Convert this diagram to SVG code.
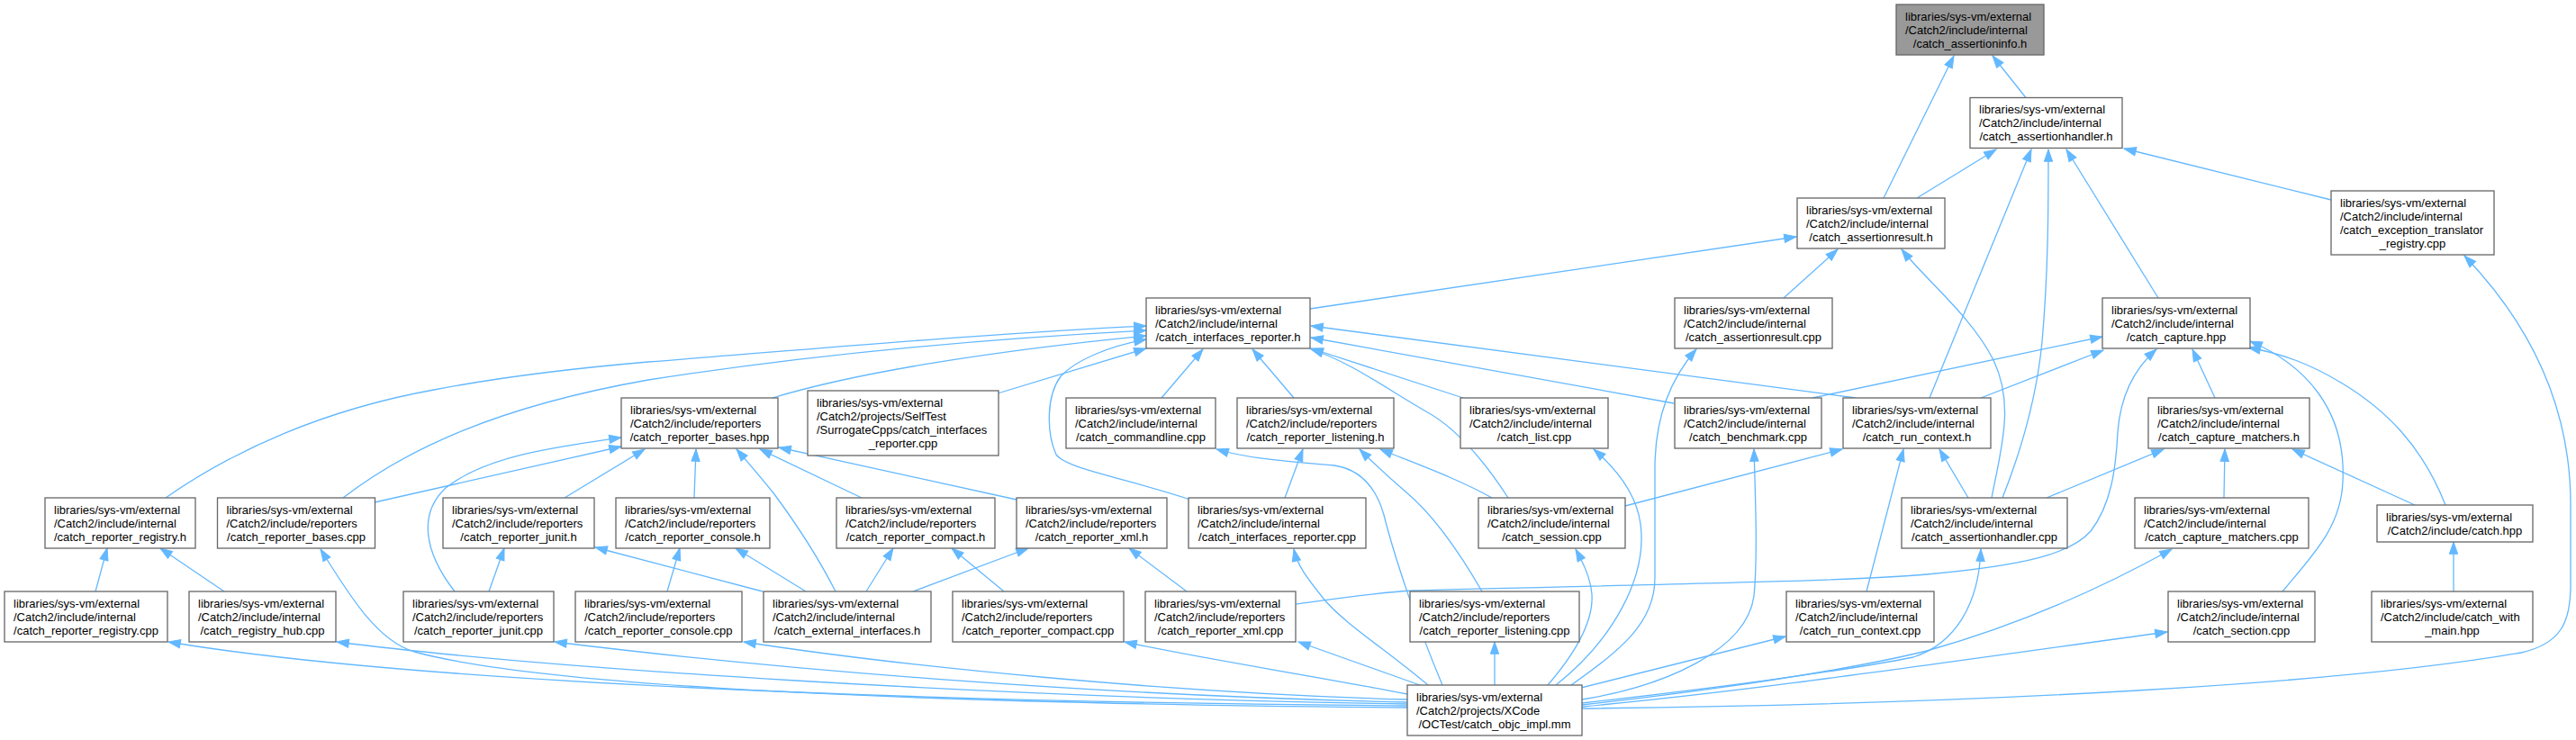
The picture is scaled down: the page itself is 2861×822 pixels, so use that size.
<svg xmlns="http://www.w3.org/2000/svg" width="2861" height="822" viewBox="0 0 2861 822">
<style>
.n rect{fill:#fff;stroke:#666;stroke-width:1.3}
.n.g rect{fill:#999}
text{font-family:"Liberation Sans",Arial,Helvetica,sans-serif;font-size:13px;fill:#000}
.c{text-anchor:middle}
.e path{fill:none;stroke:#63b8ff;stroke-width:1.3;marker-end:url(#a)}
</style>
<defs>
<marker id="a" markerWidth="14" markerHeight="10" refX="13.3" refY="4.65" orient="auto" markerUnits="userSpaceOnUse" overflow="visible"><path d="M0,0 L13.3,4.65 L0,9.3 z" fill="#63b8ff" stroke="#63b8ff" stroke-width="1"/></marker>
</defs>
<rect width="2861" height="822" fill="#fff"/>
<g id="edges" class="e">
<path d="M2250,108.5 L2213,62"/>
<path d="M2092,220 L2170,62"/>
<path d="M2129,220 L2217,166"/>
<path d="M2589,222 L2359,165"/>
<path d="M2397,331 L2295,166"/>
<path d="M2143,442 L2256,166"/>
<path d="M2224,553 C2245,500 2262,440 2268,380 C2275,300 2275,230 2275,166"/>
<path d="M1455,343 L1995,263"/>
<path d="M1981,331 L2041,277"/>
<path d="M2212,553 C2222,500 2238,450 2214,400 C2190,352 2140,312 2112,277"/>
<path d="M1757,787 C2200,782 2600,760 2800,725 C2845,715 2855,690 2855,650 L2855,560 C2855,450 2810,360 2737,284"/>
<path d="M2013,442 L2335,374"/>
<path d="M2200,442 L2336,389"/>
<path d="M1440,671 C1490,664 1530,658 1570,656 C1800,650 2050,646 2140,638 C2250,628 2300,615 2322,590 C2345,560 2350,520 2352,480 C2355,440 2370,410 2395,388"/>
<path d="M2460,442 L2435,388"/>
<path d="M2535,657 C2570,615 2600,585 2602,535 C2606,455 2560,405 2499,379"/>
<path d="M2716,561 C2690,495 2650,455 2600,425 C2565,404 2535,393 2497,386"/>
<path d="M2273,553 L2403,499"/>
<path d="M2470,553 L2471,499"/>
<path d="M2682,561 L2546,499"/>
<path d="M2186,553 L2154,499"/>
<path d="M1757,781 C1900,765 2050,745 2125,730 C2172,715 2198,670 2200,610"/>
<path d="M1757,783 C1900,767 2050,745 2140,723 C2250,692 2340,650 2412,610"/>
<path d="M1757,785 C1950,767 2150,737 2407,702"/>
<path d="M2725,657 L2725,602"/>
<path d="M1586,761 C1540,722 1492,692 1470,665 C1450,640 1441,628 1437,610"/>
<path d="M1602,761 C1572,690 1547,612 1537,572 C1527,537 1508,521 1482,517 C1440,513 1392,511 1351,499"/>
<path d="M1646,657 C1620,612 1592,572 1562,547 C1541,529 1525,514 1510,499"/>
<path d="M1657,553 C1620,532 1572,515 1533,499"/>
<path d="M1675,553 C1642,502 1612,472 1582,456 C1540,432 1500,402 1456,388"/>
<path d="M1805,562 L2046,499"/>
<path d="M1719,761 C1750,725 1770,690 1768,660 C1766,640 1758,625 1750,610"/>
<path d="M1728,761 C1790,712 1830,642 1822,582 C1818,552 1800,525 1770,499"/>
<path d="M1745,761 C1800,722 1838,692 1838,642 L1838,520 C1838,462 1856,420 1884,388"/>
<path d="M1757,777 C1850,762 1940,722 1948,662 C1952,622 1950,562 1948,499"/>
<path d="M2073,657 L2114,499"/>
<path d="M1756,764 L1983,707"/>
<path d="M1577,761 L1442,713"/>
<path d="M1563,771 C1450,749 1330,731 1249,713"/>
<path d="M1563,777 C1300,770 1000,740 826,713"/>
<path d="M1563,780 C1200,772 850,742 616,713"/>
<path d="M1563,782 C1100,775 600,742 374,713"/>
<path d="M1563,784 C1000,780 450,757 187,713"/>
<path d="M1563,786 C1000,781 600,762 460,724 C420,712 390,665 356,610"/>
<path d="M1660,761 L1660,713"/>
<path d="M106,657 L119,609"/>
<path d="M249,657 L178,609"/>
<path d="M543,657 L560,609"/>
<path d="M505,657 C470,612 465,570 495,542 C540,506 620,496 690,486"/>
<path d="M416,558 L690,496"/>
<path d="M627,553 L716,499"/>
<path d="M771,553 L773,499"/>
<path d="M928,657 C905,612 880,576 860,549 C845,530 830,513 818,499"/>
<path d="M957,553 L844,499"/>
<path d="M1129,555 L865,497"/>
<path d="M858,442 C950,414 1100,390 1273,373"/>
<path d="M184,553 C260,500 360,455 482,433 C560,418 650,408 720,402 C900,388 1100,370 1273,362"/>
<path d="M381,553 C450,500 550,452 720,422 C900,394 1100,376 1273,367"/>
<path d="M1108,437 L1273,387"/>
<path d="M1322,555 C1250,531 1185,521 1173,505 C1162,480 1162,440 1178,418 C1195,400 1230,385 1273,377"/>
<path d="M1290,442 L1336,388"/>
<path d="M1437,442 L1391,388"/>
<path d="M1625,442 L1456,387"/>
<path d="M1859,448 L1456,375"/>
<path d="M2061,442 L1456,362"/>
<path d="M1427,553 L1447,499"/>
<path d="M741,657 L755,609"/>
<path d="M895,657 L817,609"/>
<path d="M962,657 L992,609"/>
<path d="M1014,657 L1142,609"/>
<path d="M1115,657 L1057,609"/>
<path d="M1318,657 L1254,609"/>
<path d="M847,657 L661,608"/>
</g>
<g id="n0" class="n g"><rect x="2106" y="5" width="164" height="56"/><text x="2116" y="22.5">libraries/sys-vm/external</text><text x="2116" y="37.5">/Catch2/include/internal</text><text class="c" x="2188" y="52.5">/catch_assertioninfo.h</text></g>
<g id="n1" class="n"><rect x="2188" y="108.5" width="169" height="56"/><text x="2198" y="126">libraries/sys-vm/external</text><text x="2198" y="141">/Catch2/include/internal</text><text class="c" x="2272.5" y="156">/catch_assertionhandler.h</text></g>
<g id="n2" class="n"><rect x="1996" y="220" width="164" height="56"/><text x="2006" y="237.5">libraries/sys-vm/external</text><text x="2006" y="252.5">/Catch2/include/internal</text><text class="c" x="2078" y="267.5">/catch_assertionresult.h</text></g>
<g id="n3" class="n"><rect x="2589" y="212" width="181" height="71"/><text x="2599" y="229.5">libraries/sys-vm/external</text><text x="2599" y="244.5">/Catch2/include/internal</text><text x="2599" y="259.5">/catch_exception_translator</text><text class="c" x="2679.5" y="274.5">_registry.cpp</text></g>
<g id="n4" class="n"><rect x="1273" y="331" width="182" height="56"/><text x="1283" y="348.5">libraries/sys-vm/external</text><text x="1283" y="363.5">/Catch2/include/internal</text><text class="c" x="1364" y="378.5">/catch_interfaces_reporter.h</text></g>
<g id="n5" class="n"><rect x="1860" y="331" width="175" height="56"/><text x="1870" y="348.5">libraries/sys-vm/external</text><text x="1870" y="363.5">/Catch2/include/internal</text><text class="c" x="1947.5" y="378.5">/catch_assertionresult.cpp</text></g>
<g id="n6" class="n"><rect x="2335" y="331" width="164" height="56"/><text x="2345" y="348.5">libraries/sys-vm/external</text><text x="2345" y="363.5">/Catch2/include/internal</text><text class="c" x="2417" y="378.5">/catch_capture.hpp</text></g>
<g id="n7" class="n"><rect x="690" y="442" width="174" height="56"/><text x="700" y="459.5">libraries/sys-vm/external</text><text x="700" y="474.5">/Catch2/include/reporters</text><text class="c" x="777" y="489.5">/catch_reporter_bases.hpp</text></g>
<g id="n8" class="n"><rect x="897" y="434" width="212" height="72"/><text x="907" y="451.5">libraries/sys-vm/external</text><text x="907" y="466.5">/Catch2/projects/SelfTest</text><text x="907" y="481.5">/SurrogateCpps/catch_interfaces</text><text class="c" x="1003" y="496.5">_reporter.cpp</text></g>
<g id="n9" class="n"><rect x="1184" y="442" width="166" height="56"/><text x="1194" y="459.5">libraries/sys-vm/external</text><text x="1194" y="474.5">/Catch2/include/internal</text><text class="c" x="1267" y="489.5">/catch_commandline.cpp</text></g>
<g id="n10" class="n"><rect x="1374" y="442" width="174" height="56"/><text x="1384" y="459.5">libraries/sys-vm/external</text><text x="1384" y="474.5">/Catch2/include/reporters</text><text class="c" x="1461" y="489.5">/catch_reporter_listening.h</text></g>
<g id="n11" class="n"><rect x="1622" y="442" width="164" height="56"/><text x="1632" y="459.5">libraries/sys-vm/external</text><text x="1632" y="474.5">/Catch2/include/internal</text><text class="c" x="1704" y="489.5">/catch_list.cpp</text></g>
<g id="n12" class="n"><rect x="1860" y="442" width="163" height="56"/><text x="1870" y="459.5">libraries/sys-vm/external</text><text x="1870" y="474.5">/Catch2/include/internal</text><text class="c" x="1941.5" y="489.5">/catch_benchmark.cpp</text></g>
<g id="n13" class="n"><rect x="2047" y="442" width="164" height="56"/><text x="2057" y="459.5">libraries/sys-vm/external</text><text x="2057" y="474.5">/Catch2/include/internal</text><text class="c" x="2129" y="489.5">/catch_run_context.h</text></g>
<g id="n14" class="n"><rect x="2386" y="442" width="179" height="56"/><text x="2396" y="459.5">libraries/sys-vm/external</text><text x="2396" y="474.5">/Catch2/include/internal</text><text class="c" x="2475.5" y="489.5">/catch_capture_matchers.h</text></g>
<g id="n15" class="n"><rect x="50" y="553" width="167" height="56"/><text x="60" y="570.5">libraries/sys-vm/external</text><text x="60" y="585.5">/Catch2/include/internal</text><text class="c" x="133.5" y="600.5">/catch_reporter_registry.h</text></g>
<g id="n16" class="n"><rect x="241.5" y="553" width="175" height="56"/><text x="251.5" y="570.5">libraries/sys-vm/external</text><text x="251.5" y="585.5">/Catch2/include/reporters</text><text class="c" x="329" y="600.5">/catch_reporter_bases.cpp</text></g>
<g id="n17" class="n"><rect x="492" y="553" width="168" height="56"/><text x="502" y="570.5">libraries/sys-vm/external</text><text x="502" y="585.5">/Catch2/include/reporters</text><text class="c" x="576" y="600.5">/catch_reporter_junit.h</text></g>
<g id="n18" class="n"><rect x="684" y="553" width="171" height="56"/><text x="694" y="570.5">libraries/sys-vm/external</text><text x="694" y="585.5">/Catch2/include/reporters</text><text class="c" x="769.5" y="600.5">/catch_reporter_console.h</text></g>
<g id="n19" class="n"><rect x="929" y="553" width="176" height="56"/><text x="939" y="570.5">libraries/sys-vm/external</text><text x="939" y="585.5">/Catch2/include/reporters</text><text class="c" x="1017" y="600.5">/catch_reporter_compact.h</text></g>
<g id="n20" class="n"><rect x="1129" y="553" width="167" height="56"/><text x="1139" y="570.5">libraries/sys-vm/external</text><text x="1139" y="585.5">/Catch2/include/reporters</text><text class="c" x="1212.5" y="600.5">/catch_reporter_xml.h</text></g>
<g id="n21" class="n"><rect x="1320" y="553" width="197" height="56"/><text x="1330" y="570.5">libraries/sys-vm/external</text><text x="1330" y="585.5">/Catch2/include/internal</text><text class="c" x="1418.5" y="600.5">/catch_interfaces_reporter.cpp</text></g>
<g id="n22" class="n"><rect x="1642" y="553" width="163" height="56"/><text x="1652" y="570.5">libraries/sys-vm/external</text><text x="1652" y="585.5">/Catch2/include/internal</text><text class="c" x="1723.5" y="600.5">/catch_session.cpp</text></g>
<g id="n23" class="n"><rect x="2112" y="553" width="184" height="56"/><text x="2122" y="570.5">libraries/sys-vm/external</text><text x="2122" y="585.5">/Catch2/include/internal</text><text class="c" x="2204" y="600.5">/catch_assertionhandler.cpp</text></g>
<g id="n24" class="n"><rect x="2371" y="553" width="193" height="56"/><text x="2381" y="570.5">libraries/sys-vm/external</text><text x="2381" y="585.5">/Catch2/include/internal</text><text class="c" x="2467.5" y="600.5">/catch_capture_matchers.cpp</text></g>
<g id="n25" class="n"><rect x="2640" y="561" width="173" height="41"/><text x="2650" y="578.5">libraries/sys-vm/external</text><text class="c" x="2726.5" y="593.5">/Catch2/include/catch.hpp</text></g>
<g id="n26" class="n"><rect x="5" y="657" width="181" height="56"/><text x="15" y="674.5">libraries/sys-vm/external</text><text x="15" y="689.5">/Catch2/include/internal</text><text class="c" x="95.5" y="704.5">/catch_reporter_registry.cpp</text></g>
<g id="n27" class="n"><rect x="210" y="657" width="163" height="56"/><text x="220" y="674.5">libraries/sys-vm/external</text><text x="220" y="689.5">/Catch2/include/internal</text><text class="c" x="291.5" y="704.5">/catch_registry_hub.cpp</text></g>
<g id="n28" class="n"><rect x="448" y="657" width="167" height="56"/><text x="458" y="674.5">libraries/sys-vm/external</text><text x="458" y="689.5">/Catch2/include/reporters</text><text class="c" x="531.5" y="704.5">/catch_reporter_junit.cpp</text></g>
<g id="n29" class="n"><rect x="639" y="657" width="185" height="56"/><text x="649" y="674.5">libraries/sys-vm/external</text><text x="649" y="689.5">/Catch2/include/reporters</text><text class="c" x="731.5" y="704.5">/catch_reporter_console.cpp</text></g>
<g id="n30" class="n"><rect x="848" y="657" width="186" height="56"/><text x="858" y="674.5">libraries/sys-vm/external</text><text x="858" y="689.5">/Catch2/include/internal</text><text class="c" x="941" y="704.5">/catch_external_interfaces.h</text></g>
<g id="n31" class="n"><rect x="1058" y="657" width="190" height="56"/><text x="1068" y="674.5">libraries/sys-vm/external</text><text x="1068" y="689.5">/Catch2/include/reporters</text><text class="c" x="1153" y="704.5">/catch_reporter_compact.cpp</text></g>
<g id="n32" class="n"><rect x="1272" y="657" width="167" height="56"/><text x="1282" y="674.5">libraries/sys-vm/external</text><text x="1282" y="689.5">/Catch2/include/reporters</text><text class="c" x="1355.5" y="704.5">/catch_reporter_xml.cpp</text></g>
<g id="n33" class="n"><rect x="1566" y="657" width="188" height="56"/><text x="1576" y="674.5">libraries/sys-vm/external</text><text x="1576" y="689.5">/Catch2/include/reporters</text><text class="c" x="1660" y="704.5">/catch_reporter_listening.cpp</text></g>
<g id="n34" class="n"><rect x="1984" y="657" width="164" height="56"/><text x="1994" y="674.5">libraries/sys-vm/external</text><text x="1994" y="689.5">/Catch2/include/internal</text><text class="c" x="2066" y="704.5">/catch_run_context.cpp</text></g>
<g id="n35" class="n"><rect x="2408" y="657" width="163" height="56"/><text x="2418" y="674.5">libraries/sys-vm/external</text><text x="2418" y="689.5">/Catch2/include/internal</text><text class="c" x="2489.5" y="704.5">/catch_section.cpp</text></g>
<g id="n36" class="n"><rect x="2634" y="657" width="179" height="56"/><text x="2644" y="674.5">libraries/sys-vm/external</text><text x="2644" y="689.5">/Catch2/include/catch_with</text><text class="c" x="2723.5" y="704.5">_main.hpp</text></g>
<g id="n37" class="n"><rect x="1563" y="761" width="194" height="56"/><text x="1573" y="778.5">libraries/sys-vm/external</text><text x="1573" y="793.5">/Catch2/projects/XCode</text><text class="c" x="1660" y="808.5">/OCTest/catch_objc_impl.mm</text></g>
</svg>
